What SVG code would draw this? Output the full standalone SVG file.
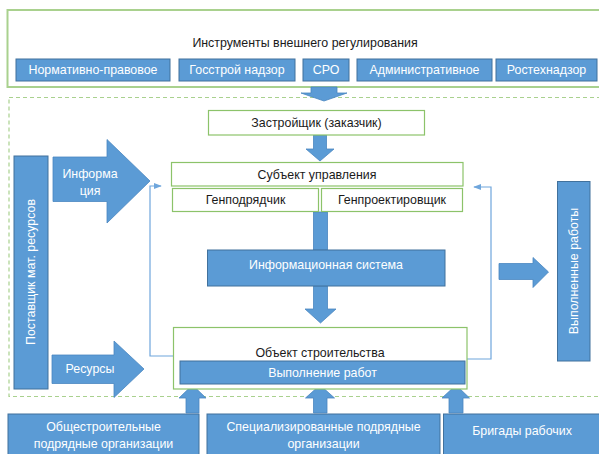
<svg xmlns="http://www.w3.org/2000/svg" width="599" height="454" viewBox="0 0 599 454">
<defs>
<style>
text{font-family:"Liberation Sans","Noto Sans",sans-serif;font-size:12.4px;text-anchor:middle;dominant-baseline:central}
.dk{fill:#1a1a1a}
.wt{fill:#ffffff}
.blue{fill:#5b9bd5;stroke:#41719c;stroke-width:1}
.arr{fill:#5b9bd5;stroke:#4a86c0;stroke-width:0.8}
.gbox{fill:#ffffff;stroke:#8cc36a;stroke-width:1.2}
.thin{fill:none;stroke:#6fa6dc;stroke-width:1.2}
</style>
<marker id="ah" viewBox="0 0 10 10" refX="9" refY="5" markerWidth="8" markerHeight="8" orient="auto" markerUnits="userSpaceOnUse">
<path d="M0,1 L10,5 L0,9 z" fill="#6fa6dc"/>
</marker>
</defs>

<g id="regulation">
<rect x="7.5" y="10" width="594" height="77" fill="#ffffff" stroke="#a9d18e" stroke-width="2"/>
<text class="dk" x="305" y="43">Инструменты внешнего регулирования</text>
</g>
<g id="normative"><rect class="blue" x="16" y="59" width="154" height="22"/><text class="wt" x="93" y="70">Нормативно-правовое</text></g>
<g id="gosstroy"><rect class="blue" x="179" y="59" width="116" height="22"/><text class="wt" x="237" y="70">Госстрой надзор</text></g>
<g id="sro"><rect class="blue" x="303" y="59" width="46" height="22"/><text class="wt" x="326" y="70">СРО</text></g>
<g id="admin"><rect class="blue" x="357" y="59" width="135" height="22"/><text class="wt" x="424.5" y="70">Административное</text></g>
<g id="rostekh"><rect class="blue" x="496" y="59" width="101" height="22"/><text class="wt" x="546.5" y="70">Ростехнадзор</text></g>

<g id="system-frame">
<rect x="9" y="97.5" width="600" height="299" fill="none" stroke="#a9d18e" stroke-width="1.2" stroke-dasharray="4,3"/>
</g>

<g id="connectors">
<path class="arr" d="M311,87 L337,87 L337,93 L347,93 L324,101 L301,93 L311,93 z"/>
<path class="arr" d="M313.5,135 L326.5,135 L326.5,149 L334,149 L320,161 L306,149 L313.5,149 z"/>
<rect class="arr" x="313.5" y="212" width="14" height="38"/>
<path class="arr" d="M313.5,286 L327.5,286 L327.5,309 L336,309 L320.5,323 L305,309 L313.5,309 z"/>
<path class="arr" d="M186,413 L199,413 L199,398 L206,398 L192.5,385 L179,398 L186,398 z"/>
<path class="arr" d="M313.5,413 L327,413 L327,398 L334.5,398 L320,385 L305.5,398 L313.5,398 z"/>
<path class="arr" d="M449,413 L463,413 L463,398 L469.5,398 L456,385 L442,398 L449,398 z"/>
<path class="arr" d="M499,263.5 L533,263.5 L533,257.5 L548.5,272 L533,287.5 L533,279.5 L499,279.5 z"/>
<polyline class="thin" points="173,356 150,356 150,186 161,186" marker-end="url(#ah)"/>
<polyline class="thin" points="467,359 491,359 491,187 474,187" marker-end="url(#ah)"/>
</g>

<g id="developer"><rect class="gbox" x="208.5" y="110.5" width="216" height="24.5"/><text class="dk" x="316.5" y="123">Застройщик (заказчик)</text></g>
<g id="management"><rect class="gbox" x="171.5" y="162.5" width="291.5" height="23.5"/><text class="dk" x="317" y="175">Субъект управления</text></g>
<g id="gencontractor"><rect class="gbox" x="172.5" y="188.5" width="146" height="23"/><text class="dk" x="245.5" y="200">Генподрядчик</text></g>
<g id="gendesigner"><rect class="gbox" x="321.5" y="188.5" width="141" height="23"/><text class="dk" x="392" y="200">Генпроектировщик</text></g>
<g id="infosystem"><rect class="blue" x="207.5" y="250" width="237.5" height="36"/><text class="wt" x="326" y="265">Информационная система</text></g>

<g id="object"><rect class="gbox" x="173.5" y="327.5" width="293.5" height="61.5"/><text class="dk" x="320" y="352.5">Объект строительства</text></g>
<g id="works"><rect class="blue" x="180" y="361" width="285" height="23"/><text class="wt" x="322.5" y="372.5">Выполнение работ</text></g>

<g id="supplier"><rect class="blue" x="14" y="156" width="34" height="233"/><text class="wt" transform="translate(31,272) rotate(-90)">Поставщик мат. ресурсов</text></g>
<g id="info-arrow"><path class="arr" d="M53,157 L107,157 L107,139.5 L150,181 L107,223 L107,201.5 L53,201.5 z"/><text class="wt" x="90" y="174">Информа</text><text class="wt" x="90" y="190.5">ция</text></g>
<g id="resources-arrow"><path class="arr" d="M52,355 L114,355 L114,341 L144,369 L114,397.5 L114,383.5 L52,383.5 z"/><text class="wt" x="90" y="368.5">Ресурсы</text></g>

<g id="completed"><rect class="blue" x="557.5" y="181.5" width="32.5" height="179.5"/><text class="wt" transform="translate(574,271) rotate(-90)">Выполненные работы</text></g>

<g id="general-contractors"><rect class="blue" x="8" y="414" width="191" height="45"/><text class="wt" x="103.5" y="427">Общестроительные</text><text class="wt" x="103.5" y="444">подрядные организации</text></g>
<g id="special-contractors"><rect class="blue" x="207" y="414" width="233" height="45"/><text class="wt" x="323.5" y="427">Специализированные подрядные</text><text class="wt" x="323.5" y="444">организации</text></g>
<g id="brigades"><rect class="blue" x="443.5" y="414" width="160" height="45"/><text class="wt" x="522" y="430.5">Бригады рабочих</text></g>
</svg>
